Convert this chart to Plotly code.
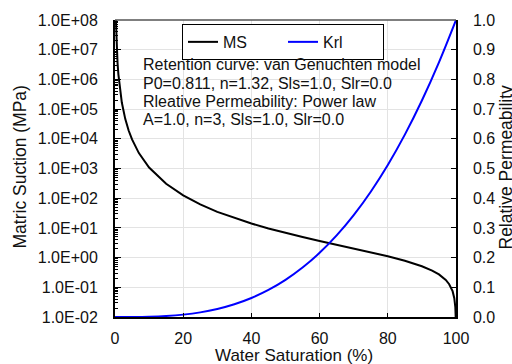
import plotly.graph_objects as go

# ---- data ----
ms_sat = [0.26, 0.35, 0.5, 0.75, 1, 1.5, 2, 3, 4, 5, 7, 10, 15, 20, 25, 30, 35, 40, 45,
          50, 55, 60, 65, 70, 75, 80, 85, 90, 93, 95, 97, 98, 99, 99.5, 99.8, 99.9, 99.95]
ms_val = [1.0e8, 3.8e7, 1.26e7, 3.5e6, 1.45e6, 4.1e5, 1.66e5, 4.7e4, 1.9e4, 9.5e3, 3.3e3,
          1.08e3, 305, 124, 61.6, 34.7, 21.4, 14.0, 9.56,
          6.76, 4.91, 3.63, 2.71, 2.03, 1.51, 1.11, 0.783, 0.512, 0.365, 0.271, 0.177,
          0.127, 0.074, 0.043, 0.0215, 0.0127, 0.0075]

krl_sat = [0, 5, 10, 15, 20, 25, 30, 35, 40, 45, 50, 55, 60, 65, 70, 75, 80, 85, 90, 95, 100]
krl_val = [0.0, 0.000125, 0.001, 0.0034, 0.008, 0.0156, 0.027, 0.0429, 0.064, 0.0911, 0.125,
           0.1664, 0.216, 0.2746, 0.343, 0.4219, 0.512, 0.6141, 0.729, 0.8574, 1.0]

x_ticks = [0, 20, 40, 60, 80, 100]
y_ticks = [1e-2, 1e-1, 1e0, 1e1, 1e2, 1e3, 1e4, 1e5, 1e6, 1e7, 1e8]
y_tick_text = ["1.0E-02", "1.0E-01", "1.0E+00", "1.0E+01", "1.0E+02", "1.0E+03",
               "1.0E+04", "1.0E+05", "1.0E+06", "1.0E+07", "1.0E+08"]
y_minor = [m * 10 ** e for e in range(-2, 8) for m in range(2, 10)]
info_lines = ["Retention curve: van Genuchten model",
              "P0=0.811, n=1.32, Sls=1.0, Slr=0.0",
              "Rleative Permeability: Power law",
              "A=1.0, n=3, Sls=1.0, Slr=0.0"]

FONT = "Liberation Sans, Arial, Helvetica, sans-serif"
W, H = 512, 364
L, R, T, B = 115, 56, 17, 47
PW, PH = W - L - R, H - T - B


def px_x(p):
    return (p - L) / PW


def px_y(p):
    return (H - B - p) / PH


fig = go.Figure()
fig.add_trace(go.Scatter(x=ms_sat, y=ms_val, name="MS", mode="lines",
                         line=dict(color="black", width=2), yaxis="y"))
fig.add_trace(go.Scatter(x=krl_sat, y=krl_val, name="Krl", mode="lines",
                         line=dict(color="#0000ff", width=2, shape="spline"), yaxis="y2"))

fig.update_layout(
    width=W, height=H,
    margin=dict(l=L, r=R, t=T, b=B, pad=0),
    paper_bgcolor="white", plot_bgcolor="white",
    font=dict(family=FONT, size=16, color="#111"),
    showlegend=True,
    legend=dict(orientation="h", x=px_x(283), y=px_y(21), xanchor="center", yanchor="top",
                bgcolor="white", bordercolor="black", borderwidth=1,
                font=dict(size=16), itemwidth=30, entrywidth=55,
                tracegroupgap=0),
    xaxis=dict(range=[0, 100], tickvals=x_ticks, ticks="inside", ticklen=4,
               tickcolor="black", showline=True, linecolor="black", linewidth=1.5,
               showgrid=True, gridcolor="#e3e3e3", gridwidth=1, zeroline=False,
               ticklabelstandoff=6, tickfont=dict(size=16)),
    yaxis=dict(type="log", range=[-2, 8], tickvals=y_ticks, ticktext=y_tick_text,
               ticks="inside", ticklen=6, tickcolor="black",
               minor=dict(tickvals=y_minor, ticks="inside", ticklen=3, tickcolor="black",
                          showgrid=False),
               showline=True, linecolor="black", linewidth=2,
               showgrid=True, gridcolor="#e3e3e3", gridwidth=1, zeroline=False,
               ticklabelstandoff=12, tickfont=dict(size=16)),
    yaxis2=dict(overlaying="y", side="right", range=[0, 1], dtick=0.1, tick0=0,
                tickformat=".1f", ticks="inside", ticklen=5, tickcolor="black",
                showline=True, linecolor="black", linewidth=1.5,
                showgrid=False, zeroline=False, ticklabelstandoff=12,
                tickfont=dict(size=16)),
)

# top border of the frame (dark grey)
fig.add_shape(type="line", xref="paper", yref="paper", x0=0, x1=1, y0=1, y1=1,
              line=dict(color="#555", width=1.5))

# info text block
line_y = [62, 81, 99, 117.5]
for txt, yy in zip(info_lines, line_y):
    fig.add_annotation(text=txt, xref="paper", yref="paper", x=px_x(141), y=px_y(yy),
                       xanchor="left", yanchor="middle", showarrow=False,
                       font=dict(size=16, color="#111"))

# axis titles
fig.add_annotation(text="Water Saturation (%)", xref="paper", yref="paper",
                   x=px_x(294), y=px_y(356), xanchor="center", yanchor="middle",
                   showarrow=False, borderpad=0, font=dict(size=17, color="#111"))
fig.add_annotation(text="Matric Suction (MPa)", xref="paper", yref="paper",
                   x=px_x(20), y=px_y(166), xanchor="center", yanchor="middle",
                   textangle=-90, showarrow=False, font=dict(size=17.5, color="#111"))
fig.add_annotation(text="Relative Permeability", xref="paper", yref="paper",
                   x=px_x(506), y=px_y(166), xanchor="center", yanchor="middle",
                   textangle=-90, showarrow=False, font=dict(size=17.5, color="#111"))

fig.write_html("out.html")
